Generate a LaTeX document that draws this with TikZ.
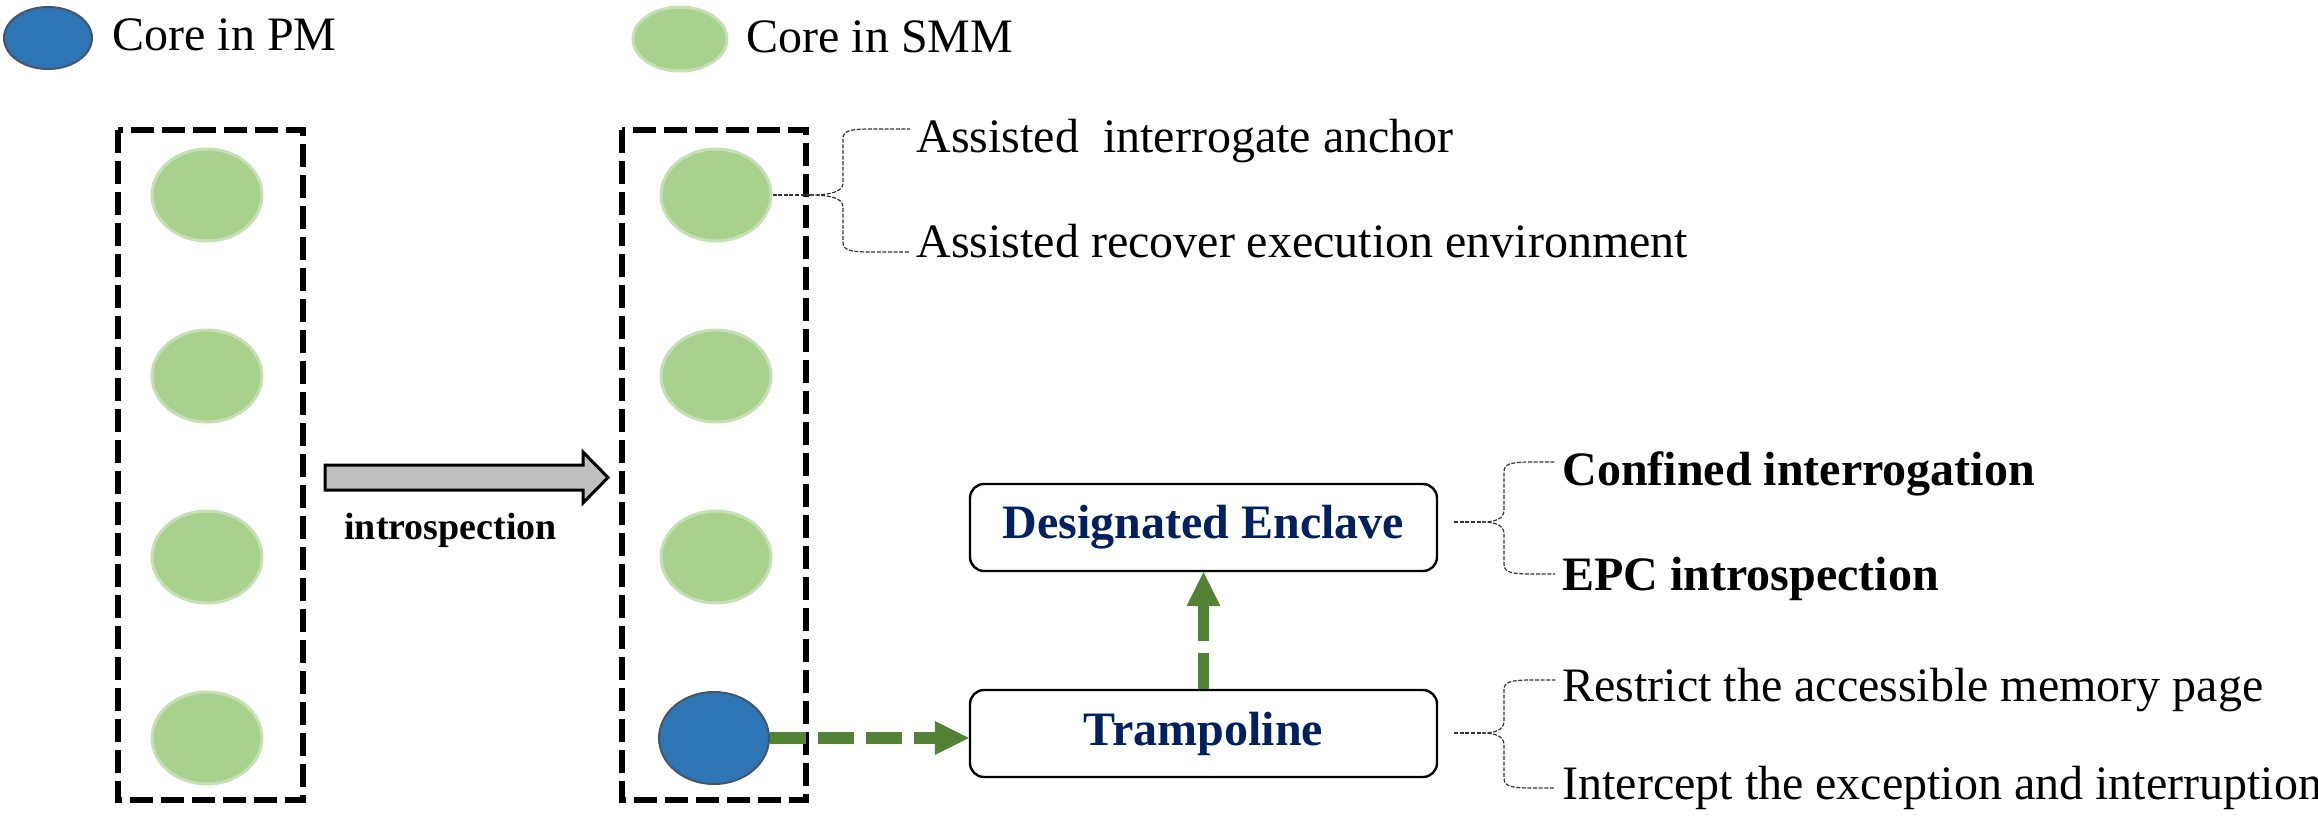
\documentclass[tikz,border=0pt]{standalone}
\usepackage{fontspec}
\setmainfont{Liberation Serif}
\usetikzlibrary{arrows.meta,shapes.geometric}

\definecolor{coregreen}{HTML}{A9D18E}
\definecolor{coregreenedge}{HTML}{C5E0B4}
\definecolor{coreblue}{HTML}{2E75B6}
\definecolor{coreblueedge}{HTML}{44546A}
\definecolor{flowgreen}{HTML}{548235}
\definecolor{navytext}{HTML}{002060}
\definecolor{arrowgray}{HTML}{BFBFBF}

% curly connector: tip x, tip y, spine x, end x, upper end y, lower end y
\newcommand\curlylink[6]{%
  \draw[bracelink] (#1,#2) .. controls ({#1+0.6*(#3-#1)},#2) and (#3,{#2-3}) .. (#3,{#2-12})
    -- (#3,{#5+10}) .. controls (#3,{#5+2}) and ({#3+6},#5) .. ({#3+28},#5) -- (#4,#5);
  \draw[bracelink] (#1,#2) .. controls ({#1+0.6*(#3-#1)},#2) and (#3,{#2+3}) .. (#3,{#2+12})
    -- (#3,{#6-10}) .. controls (#3,{#6-2}) and ({#3+6},#6) .. ({#3+28},#6) -- (#4,#6);
}

\begin{document}
\begin{tikzpicture}[x=0.5pt,y=-0.5pt,
  smmcore/.style={ellipse, fill=coregreen, draw=coregreenedge, line width=1.5pt,
    inner sep=0pt, minimum width=55pt, minimum height=46pt},
  pmcore/.style={ellipse, fill=coreblue, draw=coreblueedge, line width=1pt,
    inner sep=0pt, minimum width=55pt, minimum height=46pt},
  colbox/.style={draw=black, line width=3.4pt, dash pattern=on 11.5pt off 4pt},
  stagebox/.style={draw=black, fill=white, rounded corners=7pt, line width=1.2pt,
    minimum width=233.5pt, minimum height=43.5pt, inner sep=0pt,
    font=\fontsize{24}{28}\selectfont\bfseries, text=navytext},
  txt/.style={anchor=base west, inner sep=0pt, font=\fontsize{24}{28}\selectfont},
  boldtxt/.style={txt, font=\fontsize{24}{28}\selectfont\bfseries},
  flowarrow/.style={draw=flowgreen, line width=5.8pt, dash pattern=on 18pt off 6pt,
    -{Triangle[length=17pt,width=17pt,line width=0pt]}},
  bracelink/.style={draw=black!80, line width=0.6pt, dash pattern=on 2pt off 0.8pt},
]
\useasboundingbox (0,0) rectangle (2318,815);

% legend
\node[pmcore, minimum width=44pt, minimum height=31pt] (legpm) at (48,38) {};
\node[txt] (legpmtext) at (112,50) {Core in PM};
\node[smmcore, minimum width=47pt, minimum height=32pt] (legsmm) at (680,39) {};
\node[txt] (legsmmtext) at (746,52) {Core in SMM};

% core columns
\draw[colbox] (118,130) rectangle (303,800);
\draw[colbox] (622,130) rectangle (806,800);
\foreach \i/\y in {1/195,2/376,3/557,4/738}{
  \node[smmcore] (L\i) at (207,\y) {};
}
\node[smmcore] (R1) at (716,195) {};
\node[smmcore] (R2) at (716,376) {};
\node[smmcore] (R3) at (716,557) {};
\node[pmcore]  (R4) at (714,738) {};

% introspection block arrow
\coordinate (introtail) at (325,477.5);
\coordinate (introtip) at (608,477.5);
\draw[fill=arrowgray, line width=1.5pt, line join=miter]
  (introtail) ++(0,-12.5) -- (583,465) -- (583,452) -- (introtip)
  -- (583,503) -- (583,490) -- (325,490) -- cycle;
\node[boldtxt, font=\fontsize{19}{22}\selectfont\bfseries] (introtext) at (344,539) {introspection};

% enclave stages
\node[stagebox] (enclave) at (1203.5,527.5) {Designated Enclave};
\node[stagebox] (tramp) at (1203.5,733.5) {Trampoline};

\draw[flowarrow] (R4.east) -- (R4.east -| tramp.west);
\draw[flowarrow] (tramp.north) -- (enclave.south);

% annotations of the first SMM core
\coordinate (tipA) at (810,195);
\draw[bracelink, line width=1pt] (R1.east) -- (tipA);
\curlylink{810}{195}{843}{910}{129}{252}
\node[txt] (assistA) at (916,152) {Assisted\ \ interrogate anchor};
\node[txt] (assistB) at (916,257) {Assisted recover execution environment};

% annotations of the enclave
\coordinate (tipB) at (1482,522);
\draw[bracelink] ([xshift=8pt]enclave.east |- tipB) -- (tipB);
\curlylink{1482}{522}{1504}{1555}{462}{574}
\node[boldtxt] (confined) at (1562,485) {Confined interrogation};
\node[boldtxt] (epc) at (1562,590) {EPC introspection};

% annotations of the trampoline
\coordinate (tipC) at (1482,733);
\draw[bracelink] ([xshift=8pt]tramp.east |- tipC) -- (tipC);
\curlylink{1482}{733}{1504}{1555}{680}{788}
\node[txt] (restrict) at (1562,701) {Restrict the accessible memory page};
\node[txt] (intercept) at (1562,799) {Intercept the exception and interruption};
\end{tikzpicture}
\end{document}
